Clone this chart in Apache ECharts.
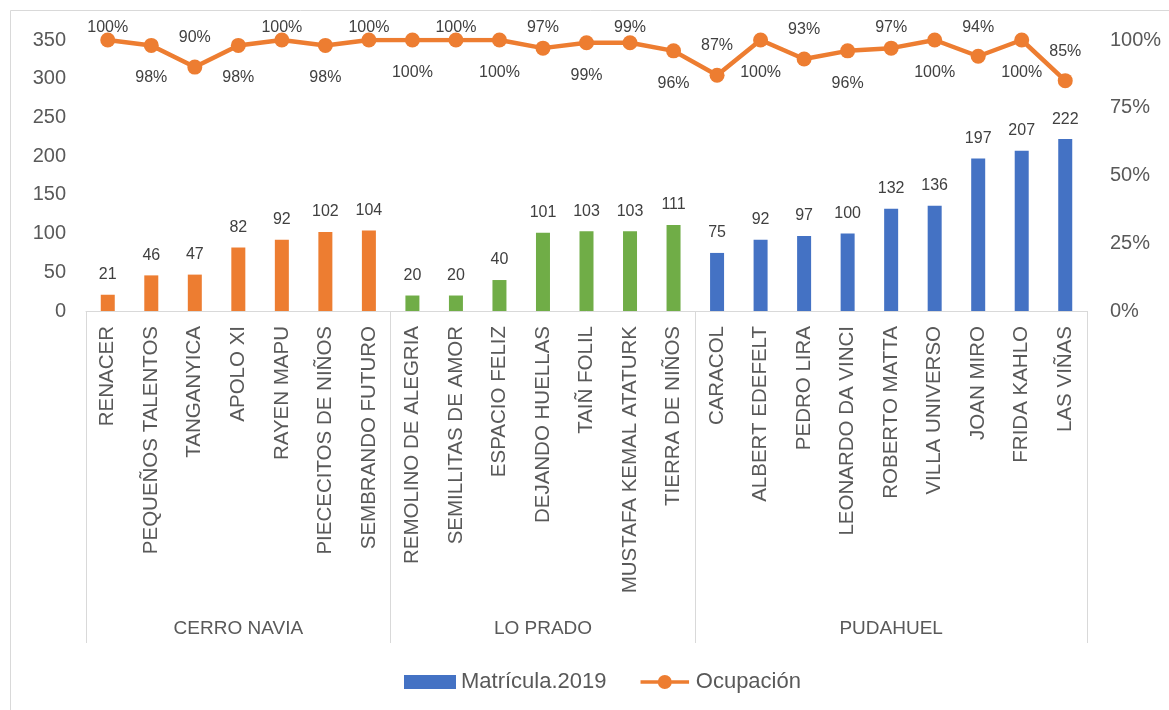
<!DOCTYPE html>
<html>
<head>
<meta charset="utf-8">
<script src="https://cdn.jsdelivr.net/npm/echarts@6/dist/echarts.min.js"></script>
<style>
  html, body { margin: 0; padding: 0; background: #fff; }
  #main { width: 1169px; height: 710px; }
</style>
</head>
<body>
<div id="main"></div>
<script>
const escuelas = [
  'RENACER', 'PEQUEÑOS TALENTOS', 'TANGANYICA', 'APOLO XI', 'RAYEN MAPU', 'PIECECITOS DE NIÑOS', 'SEMBRANDO FUTURO',
  'REMOLINO DE ALEGRIA', 'SEMILLITAS DE AMOR', 'ESPACIO FELIZ', 'DEJANDO HUELLAS', 'TAIÑ FOLIL', 'MUSTAFA KEMAL ATATURK', 'TIERRA DE NIÑOS',
  'CARACOL', 'ALBERT EDEFELT', 'PEDRO LIRA', 'LEONARDO DA VINCI', 'ROBERTO MATTA', 'VILLA UNIVERSO', 'JOAN MIRO', 'FRIDA KAHLO', 'LAS VIÑAS'
]
const comunas = ['CERRO NAVIA', 'LO PRADO', 'PUDAHUEL']
const escuelasPorComuna = [7, 7, 9]
const matricula = [21, 46, 47, 82, 92, 102, 104, 20, 20, 40, 101, 103, 103, 111, 75, 92, 97, 100, 132, 136, 197, 207, 222]
const ocupacion = [1.00, 0.98, 0.90, 0.98, 1.00, 0.98, 1.00, 1.00, 1.00, 1.00, 0.97, 0.99, 0.99, 0.96, 0.87, 1.00, 0.93, 0.96, 0.97, 1.00, 0.94, 1.00, 0.85]

const coloresComuna = ['#ED7D31', '#70AD47', '#4472C4']
const naranja = '#ED7D31'
const fuente = '"Liberation Sans", Arial, sans-serif'
// icono de leyenda: linea gruesa con circulo al medio
const iconoLinea = 'path://M0,5.5H20.6V9.5H0Z M31.4,5.5H52V9.5H31.4Z M33.5,7.5A7.5,7.5 0 1 1 18.5,7.5A7.5,7.5 0 1 1 33.5,7.5Z'

// inicio de cada comuna y posicion de su etiqueta
let inicios = []
let medios = {}
let acc = 0
escuelasPorComuna.forEach((n, k) => {
  inicios.push(acc)
  medios[acc + Math.floor(n / 2)] = comunas[k]
  acc += n
})
const comunaDe = (i) => {
  let k = 0
  while (k + 1 < inicios.length && i >= inicios[k + 1]) k++
  return k
}

const barData = matricula.map((v, i) => ({
  value: v,
  itemStyle: { color: coloresComuna[comunaDe(i)] }
}))

function lineData(offsets) {
  return ocupacion.map((v, i) => ({
    value: v,
    label: i % 2 === 0
      ? { position: 'top', distance: 14, offset: [0, offsets ? offsets[i] : 0] }
      : { position: 'bottom', distance: 17 }
  }))
}

const chart = echarts.init(document.getElementById('main'))
chart.setOption({
  animation: false,
  backgroundColor: '#fff',
  textStyle: { fontFamily: fuente },
  graphic: [{
    type: 'rect',
    shape: { x: 10.5, y: 10.5, width: 1180, height: 720 },
    style: { fill: 'none', stroke: '#D9D9D9', lineWidth: 1 },
    silent: true
  }],
  grid: { left: 86, right: 82, top: 40, bottom: 399, containLabel: false, outerBoundsMode: 'none' },
  legend: {
    top: 666,
    left: 399,
    itemGap: 34,
    itemWidth: 52,
    itemHeight: 14,
    textStyle: { fontSize: 22, color: '#595959', fontFamily: fuente },
    data: [
      { name: 'Matrícula.2019', icon: 'rect', itemStyle: { color: '#4472C4' } },
      { name: 'Ocupación', icon: iconoLinea, itemStyle: { color: naranja } }
    ]
  },
  xAxis: [
    {
      type: 'category',
      data: escuelas,
      axisLine: { lineStyle: { color: '#D9D9D9', width: 1 } },
      axisTick: {
        show: true,
        length: 332,
        interval: (index) => inicios.includes(index),
        lineStyle: { color: '#D9D9D9', width: 1 }
      },
      axisLabel: {
        interval: 0,
        rotate: 90,
        margin: 15,
        fontSize: 20.5,
        color: '#595959',
        fontFamily: fuente
      }
    },
    {
      type: 'category',
      position: 'bottom',
      offset: 300,
      data: escuelas,
      axisLine: { show: false },
      axisTick: { show: false },
      axisLabel: {
        interval: 0,
        margin: 8,
        fontSize: 19,
        color: '#595959',
        fontFamily: fuente,
        formatter: (value, index) => medios[index] || ''
      }
    }
  ],
  yAxis: [
    {
      type: 'value',
      min: 0,
      max: 350,
      interval: 50,
      splitLine: { show: false },
      axisLine: { show: false },
      axisTick: { show: false },
      axisLabel: { fontSize: 20, color: '#595959', margin: 20, fontFamily: fuente }
    },
    {
      type: 'value',
      min: 0,
      max: 1,
      interval: 0.25,
      splitLine: { show: false },
      axisLine: { show: false },
      axisTick: { show: false },
      axisLabel: {
        fontSize: 20, color: '#595959', margin: 23, fontFamily: fuente,
        formatter: (v) => Math.round(v * 100) + '%'
      }
    }
  ],
  series: [
    {
      name: 'Matrícula.2019',
      type: 'bar',
      barWidth: 14,
      itemStyle: { color: '#4472C4' },
      data: barData,
      label: {
        show: true,
        position: 'top',
        distance: 12,
        fontSize: 16,
        color: '#404040',
        fontFamily: fuente
      }
    },
    {
      name: 'Ocupación',
      type: 'line',
      yAxisIndex: 1,
      symbol: 'circle',
      symbolSize: 15,
      itemStyle: { color: naranja },
      lineStyle: { color: naranja, width: 4.5 },
      data: lineData(null),
      label: {
        show: true,
        fontSize: 16,
        color: '#404040',
        fontFamily: fuente,
        formatter: (p) => Math.round(p.value * 100) + '%'
      },
      z: 3
    }
  ]
})

// como en Excel: las etiquetas de arriba no suben mas alla del borde superior
const offsets = ocupacion.map((v, i) => {
  const y = chart.convertToPixel({ seriesIndex: 1 }, [i, v])[1]
  return Math.max(0, 28 - (y - 29))
})
chart.setOption({ series: [{}, { data: lineData(offsets) }] })
</script>
</body>
</html>
